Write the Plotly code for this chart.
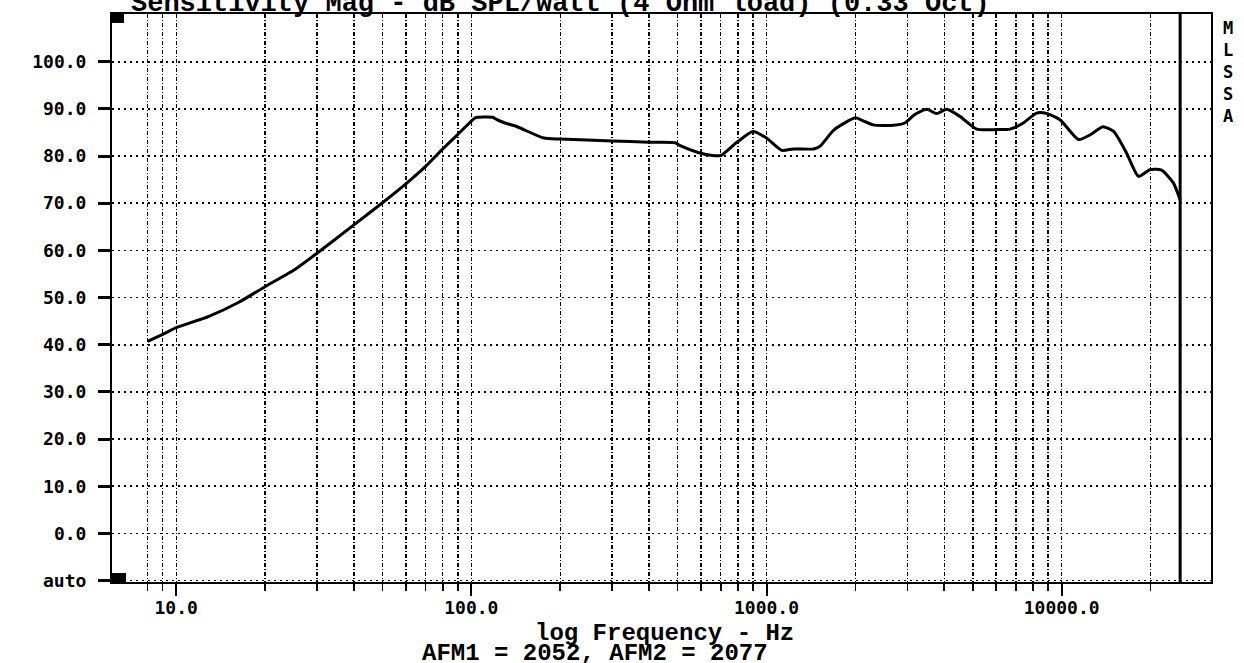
import math
import plotly.graph_objects as go

# ---------------- data ----------------
freq_hz = [8, 9, 10, 12.9, 16.3, 20, 25.3, 30, 40, 50, 60, 70, 80, 90, 100, 103,
           118, 122, 130, 143, 176, 200, 300, 400, 490, 510, 590, 656, 700, 790,
           900, 1000, 1126, 1233, 1445, 1520, 1690, 2000, 2100, 2300, 2690, 2940,
           3180, 3490, 3770, 4080, 4520, 5150, 6020, 6680, 7410, 8230, 8900, 9870,
           11400, 12500, 13800, 15000, 16600, 18200, 19900, 21800, 23900, 25200]
spl_db = [40.7, 42.2, 43.6, 46.0, 49.0, 52.3, 56.0, 59.4, 65.4, 70.1, 74.1, 77.8,
          81.5, 84.6, 87.4, 88.1, 88.2, 87.7, 87.0, 86.2, 83.8, 83.6, 83.2, 82.9,
          82.8, 82.2, 80.7, 80.1, 80.1, 82.8, 85.2, 83.8, 81.2, 81.5, 81.5, 82.1,
          85.5, 88.1, 87.6, 86.6, 86.5, 87.0, 88.8, 89.9, 89.0, 89.9, 88.4, 85.7,
          85.6, 85.7, 87.0, 89.1, 89.0, 87.7, 83.5, 84.5, 86.2, 85.2, 80.6, 75.7,
          77.1, 77.0, 74.3, 70.7]
assert len(freq_hz) == len(spl_db)

x_major_ticks = [10, 100, 1000, 10000]
x_major_labels = ["10.0", "100.0", "1000.0", "10000.0"]
x_minor_ticks = [8, 9, 20, 30, 40, 50, 60, 70, 80, 90,
                 200, 300, 400, 500, 600, 700, 800, 900,
                 2000, 3000, 4000, 5000, 6000, 7000, 8000, 9000, 20000]
y_ticks = [-10, 0, 10, 20, 30, 40, 50, 60, 70, 80, 90, 100]
y_labels = ["auto", "0.0", "10.0", "20.0", "30.0", "40.0", "50.0",
            "60.0", "70.0", "80.0", "90.0", "100.0"]

title_text = "Sensitivity Mag - dB SPL/watt (4 Ohm load) (0.33 Oct)"
xlabel_text = "log Frequency - Hz"
afm_text = "AFM1 = 2052, AFM2 = 2077"
brand_text = "MLSSA"

# ---------------- figure ----------------
W, H = 1244, 663
ML, MR, MT, MB = 112, 33, 12, 81
PW, PH = W - ML - MR, H - MT - MB


def px_x(px):
    return (px - ML) / PW


def px_y(py):
    return (H - MB - py) / PH


tick_font = dict(family="DejaVu Sans Mono", size=18, color="black", weight="bold")
text_font = dict(family="Liberation Mono", size=24, color="black", weight="bold")
grid_dash_v = "4px,2px,1px,2px"

fig = go.Figure()
fig.add_trace(go.Scatter(
    x=freq_hz, y=spl_db, mode="lines",
    line=dict(color="black", width=3, shape="spline", smoothing=0.6),
    showlegend=False, hoverinfo="skip",
))

fig.update_layout(
    width=W, height=H,
    margin=dict(l=ML, r=MR, t=MT, b=MB, pad=0),
    paper_bgcolor="white", plot_bgcolor="white",
    showlegend=False,
    xaxis=dict(
        type="log",
        range=[math.log10(6.06), math.log10(32060)],
        tickmode="array", tickvals=x_major_ticks, ticktext=x_major_labels,
        ticks="outside", ticklen=12, tickwidth=2, tickcolor="black",
        tickfont=tick_font, ticklabelstandoff=-4,
        showgrid=True, gridcolor="black", gridwidth=1.4, griddash=grid_dash_v,
        minor=dict(tickmode="array", tickvals=x_minor_ticks, ticks="outside",
                   ticklen=7, tickwidth=1.5, tickcolor="black",
                   showgrid=True, gridcolor="black", gridwidth=1.4,
                   griddash=grid_dash_v),
        showline=True, linecolor="black", linewidth=2, mirror=True,
        zeroline=False, fixedrange=True,
    ),
    yaxis=dict(
        range=[-10.3, 110.1],
        tickmode="array", tickvals=y_ticks, ticktext=y_labels,
        ticks="outside", ticklen=12, tickwidth=3, tickcolor="black",
        tickfont=tick_font, ticklabelstandoff=8,
        showgrid=True, gridcolor="black", gridwidth=1.7, griddash="2px,4px",
        showline=True, linecolor="black", linewidth=2, mirror=True,
        zeroline=False, fixedrange=True,
    ),
)

# thick end-of-data vertical line
fig.add_shape(type="line", xref="x", yref="paper",
              x0=freq_hz[-1], x1=freq_hz[-1], y0=0, y1=1,
              line=dict(color="black", width=3))
# black corner squares
fig.add_shape(type="rect", xref="paper", yref="paper",
              x0=0, x1=12 / PW, y0=1 - 9 / PH, y1=1,
              fillcolor="black", line=dict(width=0))
fig.add_shape(type="rect", xref="paper", yref="paper",
              x0=0, x1=14 / PW, y0=0, y1=9 / PH,
              fillcolor="black", line=dict(width=0))

fig.add_annotation(text=title_text, xref="paper", yref="paper",
                   x=px_x(560), y=px_y(2), xanchor="center", yanchor="middle",
                   showarrow=False, font=dict(text_font, size=27))
fig.add_annotation(text=xlabel_text, xref="paper", yref="paper",
                   x=px_x(664), y=px_y(634), xanchor="center", yanchor="middle",
                   showarrow=False, font=text_font)
fig.add_annotation(text=afm_text, xref="paper", yref="paper",
                   x=px_x(595), y=px_y(654), xanchor="center", yanchor="middle",
                   showarrow=False, font=text_font)
fig.add_annotation(text="<br>".join(brand_text), xref="paper", yref="paper",
                   x=px_x(1228), y=px_y(70), xanchor="center", yanchor="middle",
                   showarrow=False,
                   font=dict(family="DejaVu Sans Mono", size=17, color="black", weight="bold"))

fig.write_html("out.html",
               config={"displayModeBar": False, "staticPlot": True},
               post_script="document.body.style.margin='0';document.body.style.overflow='hidden';")
